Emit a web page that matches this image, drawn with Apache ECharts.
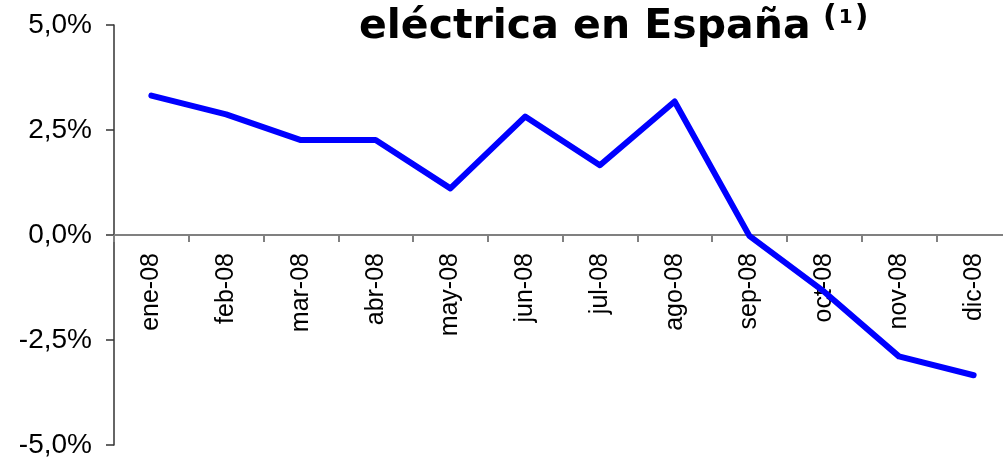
<!DOCTYPE html>
<html>
<head>
<meta charset="utf-8">
<script src="https://cdn.jsdelivr.net/npm/echarts@6/dist/echarts.min.js"></script>
<style>
  html, body { margin: 0; padding: 0; background: #fff; }
  #chart { width: 1003px; height: 459px; }
</style>
</head>
<body>
<div id="chart"></div>
<script>
// 数据
const months = ['ene-08', 'feb-08', 'mar-08', 'abr-08', 'may-08', 'jun-08',
                'jul-08', 'ago-08', 'sep-08', 'oct-08', 'nov-08', 'dic-08'];
const variacion = [3.32, 2.87, 2.26, 2.26, 1.11, 2.82, 1.66, 3.18, -0.02, -1.35, -2.89, -3.34];
const yTicks = { min: -5, max: 5, step: 2.5 };
const titleText = 'eléctrica en España';
const titleNote = '1';

// 绘图区域
const gridTop = 25;
const gridBottom = 14;
const chartHeight = 459;
const plotHeight = chartHeight - gridTop - gridBottom;
// x轴移到 0 线处（v6 中 onZero 时标签仍留在底部，所以用 offset）
const zeroOffset = -plotHeight * (0 - yTicks.min) / (yTicks.max - yTicks.min);

const chart = echarts.init(document.getElementById('chart'));

const option = {
    animation: false,
    title: [
        {
            text: titleText,
            left: 359,
            top: 7,
            padding: 0,
            textStyle: { fontFamily: 'DejaVu Sans', fontWeight: 'bold', fontSize: 41, color: '#000' }
        },
        {
            // 上标注释 (1)
            text: '{p|(}{n|' + titleNote + '}{p|)}',
            left: 823,
            top: 3,
            padding: 0,
            textStyle: {
                rich: {
                    p: { fontFamily: 'DejaVu Sans', fontWeight: 'bold', fontSize: 30, color: '#000' },
                    n: { fontFamily: 'DejaVu Sans', fontWeight: 'bold', fontSize: 20, color: '#000', padding: [0, 2, 0, 2] }
                }
            }
        }
    ],
    grid: {
        left: 114, right: -8, top: gridTop, bottom: gridBottom,
        containLabel: false,
        outerBoundsMode: 'none'
    },
    xAxis: {
        type: 'category',
        data: months,
        boundaryGap: true,
        position: 'bottom',
        offset: zeroOffset,
        axisLine: { onZero: false, lineStyle: { color: '#808080', width: 2 } },
        axisTick: { show: true, length: 7, lineStyle: { color: '#808080', width: 2 } },
        axisLabel: {
            rotate: 90,
            interval: 0,
            margin: 18,
            fontFamily: 'Liberation Sans, Arial, sans-serif',
            fontSize: 25,
            color: '#000'
        },
        splitLine: { show: false }
    },
    yAxis: {
        type: 'value',
        min: yTicks.min,
        max: yTicks.max,
        interval: yTicks.step,
        axisLine: { show: true, lineStyle: { color: '#333', width: 1.5 } },
        axisTick: { show: true, length: 8, lineStyle: { color: '#333', width: 1.5 } },
        axisLabel: {
            margin: 22,
            fontFamily: 'Liberation Sans, Arial, sans-serif',
            fontSize: 28,
            color: '#000',
            formatter: v => v.toFixed(1).replace('.', ',') + '%'
        },
        splitLine: { show: false }
    },
    series: [{
        type: 'line',
        data: variacion,
        showSymbol: false,
        symbol: 'none',
        lineStyle: { color: '#0000ff', width: 6, cap: 'round', join: 'round' }
    }]
};

chart.setOption(option);
</script>
</body>
</html>
